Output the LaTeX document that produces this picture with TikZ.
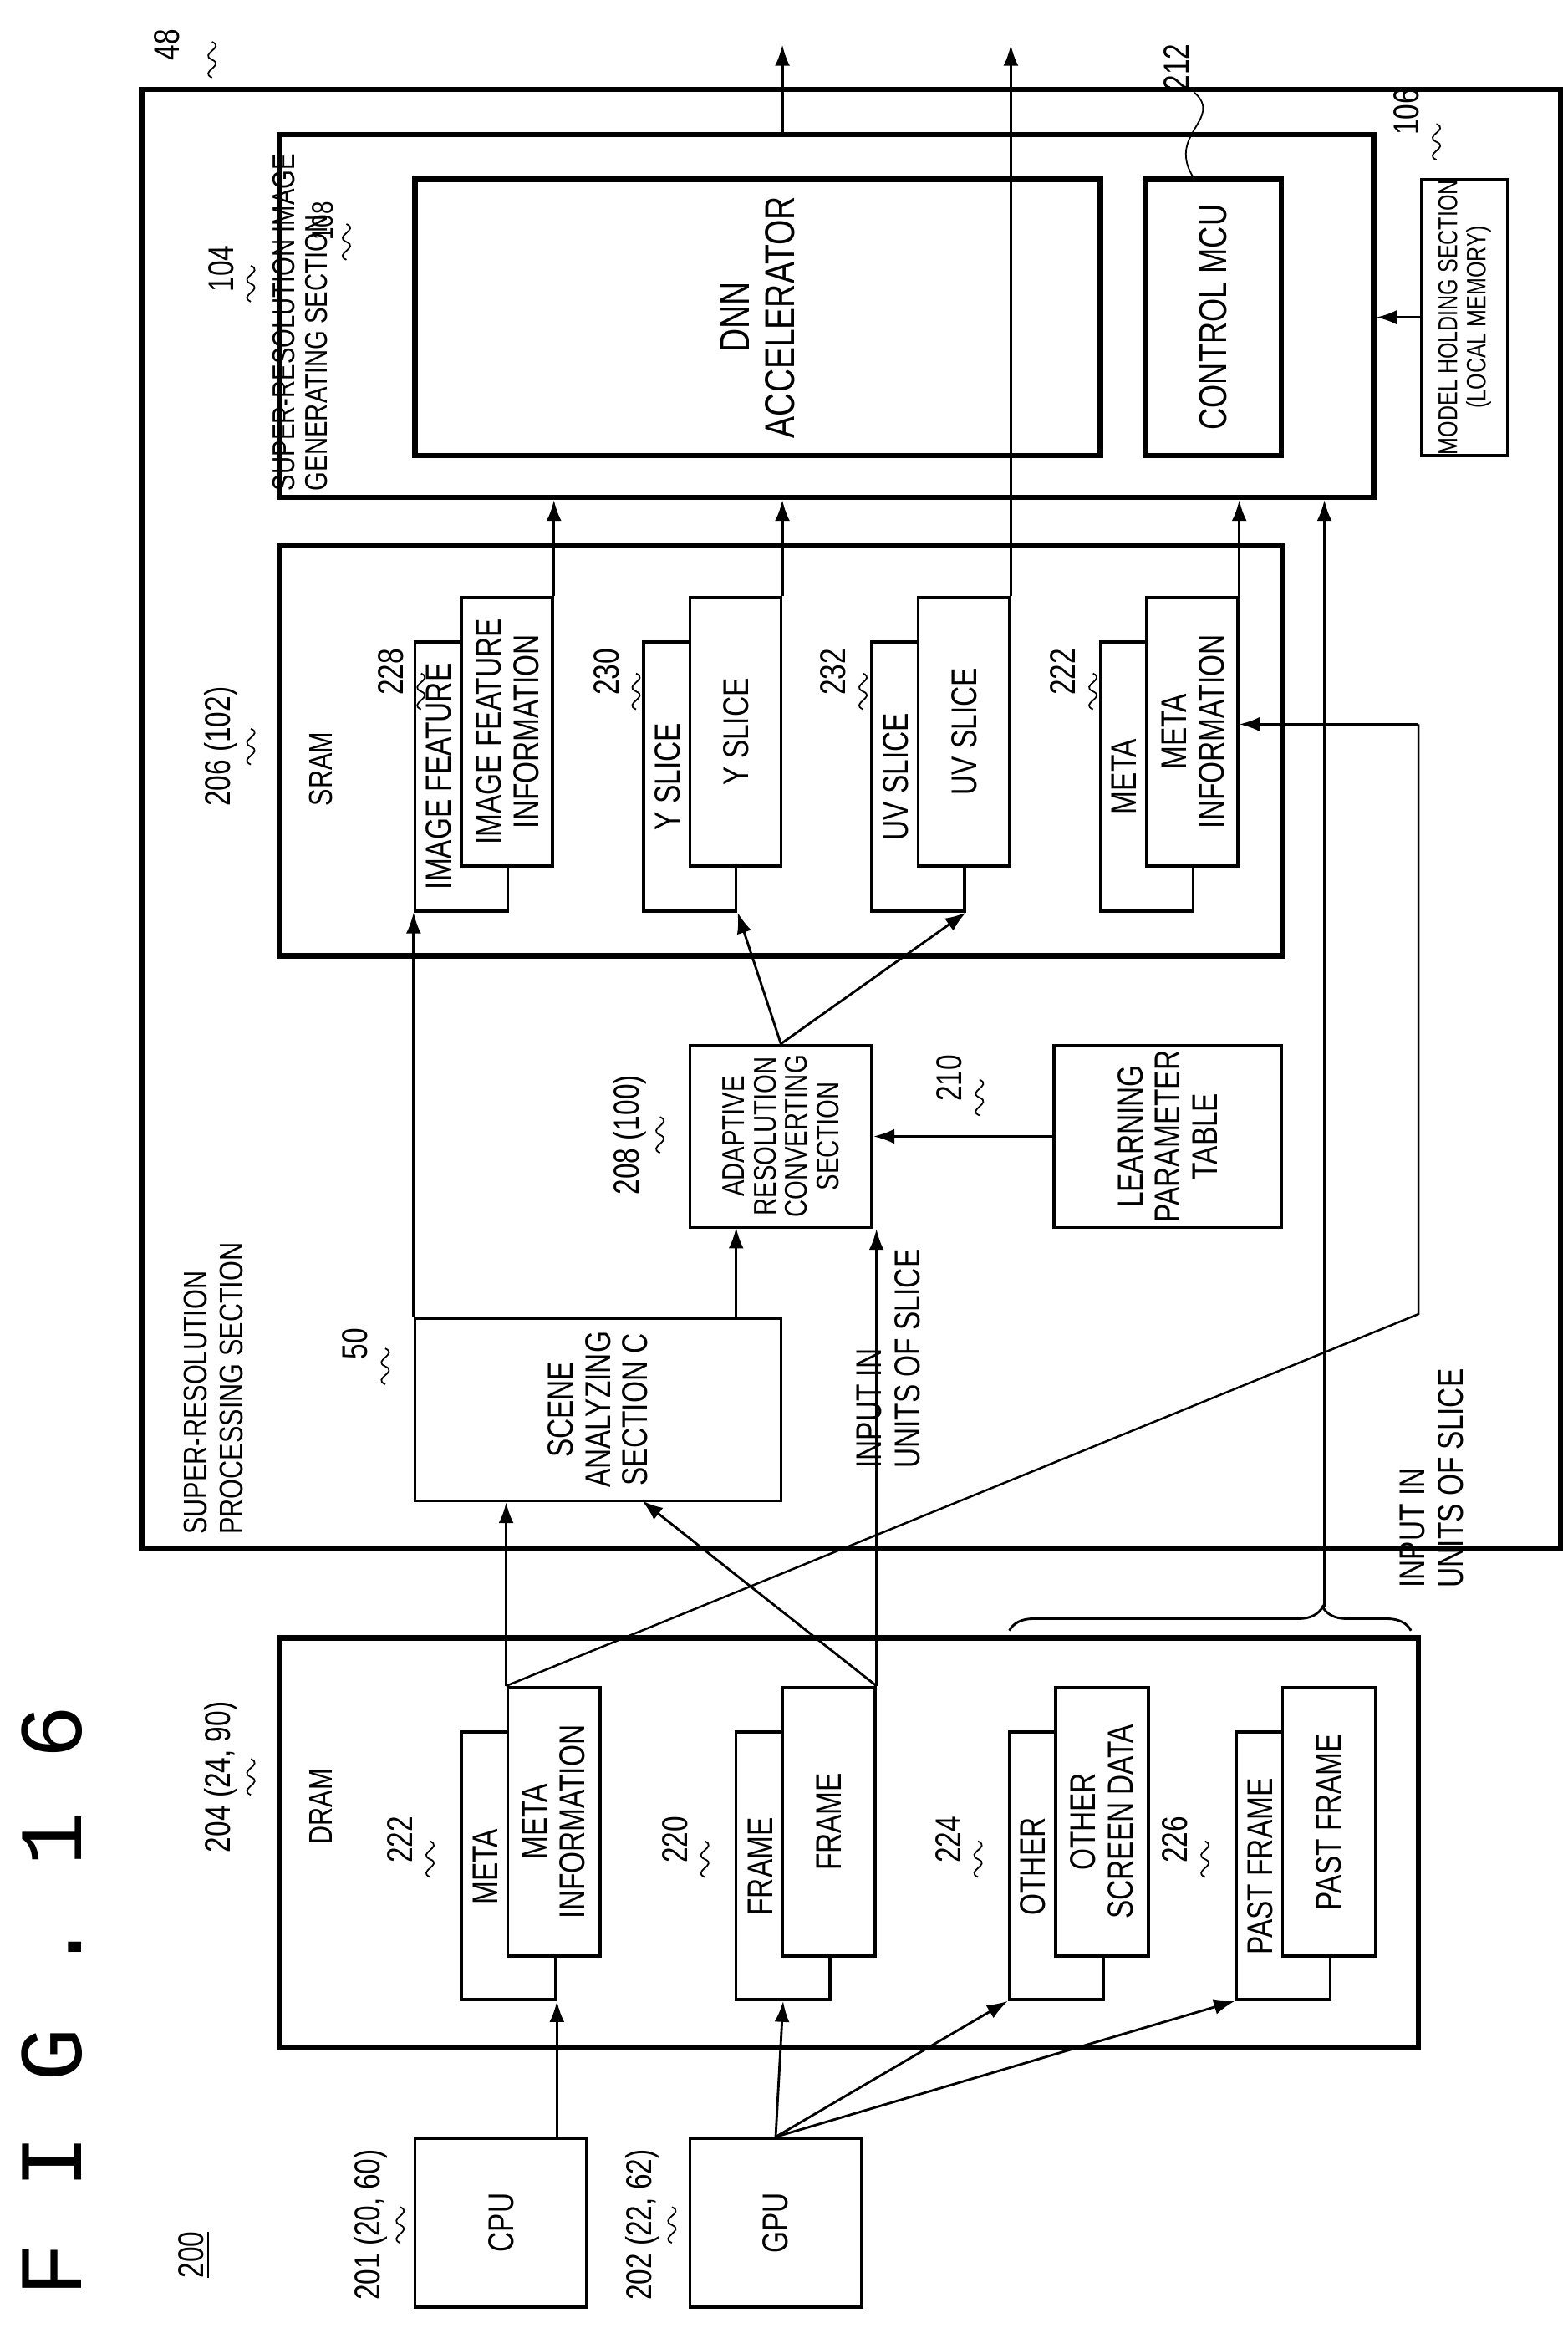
\documentclass[tikz,border=0pt]{standalone}
\usepackage{fontspec}
\setmainfont{Liberation Sans}[FakeStretch=0.78]
\newfontfamily\figfont{Liberation Mono}
\usetikzlibrary{fit,arrows.meta,decorations.pathreplacing}
\begin{document}
\begin{tikzpicture}[x=0.5pt,y=-0.5pt,
  bx/.style={draw,line width=1pt,inner sep=0pt,fill=white},
  tk/.style={draw,line width=1.8pt,inner sep=0pt},
  tx/.style={rotate=90,align=center,font=\fontsize{12}{12.5}\selectfont,inner sep=0pt},
  lb/.style={rotate=90,font=\fontsize{12}{13}\selectfont,inner sep=1pt},
  arr/.style={line width=0.8pt,-{Latex[length=7pt,width=5pt]}},
  ln/.style={line width=0.7pt},
  sq/.style={line width=0.5pt}]
\useasboundingbox (0,0) rectangle (1050,1559);
\newcommand\sqg[2]{\draw[sq] (#1,#2+12) .. controls +(-9,-4) and +(9,4) .. ++(0,-12) .. controls +(-9,-4) and +(9,4) .. ++(0,-12);}
% title
\node[rotate=90,font=\figfont\fontsize{30}{30}\selectfont,anchor=west] (fig) at (35,1545) {F I G . 1 6};
\node[lb] (n200) at (130,1510) {\underline{200}};
% CPU / GPU
\node[bx,fit={(278,1432)(393,1545)}] (cpu) {};
\node[tx] at (cpu) {CPU};
\node[bx,fit={(462,1432)(577,1545)}] (gpu) {};
\node[tx] at (gpu) {GPU};
\node[lb] (l201) at (248,1490) {201 (20, 60)}; \sqg{268}{1490}
\node[lb] (l202) at (430,1490) {202 (22, 62)}; \sqg{450}{1490}
% DRAM
\node[tk,fit={(187,1097)(950,1371)}] (dram) {};
\node[lb,font=\fontsize{11}{12}\selectfont] (ldram) at (215,1210) {DRAM};
\node[lb] (l204) at (148,1190) {204 (24, 90)}; \sqg{168}{1190}
\newcommand\pair[6]{%
 \node[bx,fit={(#1,1160)(#1+63,1339)}] (#3a) {};
 \node[tx] at (#1+16,1250) {#4};
 \node[bx,fit={(#1+31,1130)(#1+93,1310)}] (#3b) {};
 \node[tx] at (#1+62,1220) {#5};
 \node[lb] (#3l) at (#2,1232) {#6}; \sqg{#2+20}{1245}}
\pair{309}{268}{meta}{META}{META\\INFORMATION}{222}
\pair{493}{452}{frame}{FRAME}{FRAME}{220}
\pair{676}{635}{other}{OTHER}{OTHER\\SCREEN DATA}{224}
\pair{828}{787}{past}{PAST FRAME}{PAST FRAME}{226}
% SR processing section
\node[tk,fit={(95,60)(1045,1037)}] (srp) {};
\node[lb,font=\fontsize{11}{12}\selectfont,align=left,anchor=south west] (lsrp) at (165,1030) {SUPER-RESOLUTION\\PROCESSING SECTION};
\node[lb] (l48) at (112,30) {48}; \sqg{142}{40}
\node[bx,fit={(278,883)(523,1005)}] (scene) {};
\node[tx] at (scene) {SCENE\\ANALYZING\\SECTION C};
\node[lb] (l50) at (238,900) {50}; \sqg{258}{915}
\node[bx,fit={(462,700)(584,822)}] (adapt) {};
\node[tx,font=\fontsize{10.5}{10.5}\selectfont] at (adapt) {ADAPTIVE\\RESOLUTION\\CONVERTING\\SECTION};
\node[lb] (l208) at (422,760) {208 (100)}; \sqg{442}{760}
\node[bx,fit={(706,700)(858,822)}] (learn) {};
\node[tx] at (learn) {LEARNING\\PARAMETER\\TABLE};
\node[lb] (l210) at (636,722) {210}; \sqg{656}{735}
\node[lb,font=\fontsize{12}{13}\selectfont,align=left] (lin1) at (595,910) {INPUT IN\\UNITS OF SLICE};
% SRAM
\node[tk,fit={(187,365)(859,640)}] (sram) {};
\node[lb,font=\fontsize{11}{12}\selectfont] (lsram) at (215,515) {SRAM};
\node[lb] (l206) at (148,500) {206 (102)}; \sqg{168}{500}
\newcommand\spair[6]{%
 \node[bx,fit={(#1,430)(#1+62,610)}] (#3a) {};
 \node[tx] at (#1+16,520) {#4};
 \node[bx,fit={(#1+31,400)(#1+92,580)}] (#3b) {};
 \node[tx] at (#1+62,490) {#5};
 \node[lb] (#3l) at (#2,450) {#6}; \sqg{#2+20}{463}}
\spair{278}{262}{imf}{IMAGE FEATURE}{IMAGE FEATURE\\INFORMATION}{228}
\spair{431}{406}{ysl}{Y SLICE}{Y SLICE}{230}
\spair{584}{558}{uvs}{UV SLICE}{UV SLICE}{232}
\spair{737}{712}{smeta}{META}{META\\INFORMATION}{222}
% SR gen section
\node[tk,fit={(187,90)(920,333)}] (srg) {};
\node[lb,font=\fontsize{10.5}{11}\selectfont,align=left,anchor=south west] (lsrg) at (222,331) {SUPER-RESOLUTION IMAGE\\GENERATING SECTION};
\node[lb] (l104) at (148,180) {104}; \sqg{168}{190}
\node[lb,font=\fontsize{10}{11}\selectfont] (l108) at (216,148) {108}; \sqg{232}{162}
\node[tk,fit={(278,120)(737,305)}] (dnn) {};
\node[tx,font=\fontsize{14}{15}\selectfont] at (dnn) {DNN\\ACCELERATOR};
\node[tk,fit={(767,120)(858,305)}] (mcu) {};
\node[tx,font=\fontsize{13}{14}\selectfont] at (mcu) {CONTROL MCU};
\node[bx,fit={(952,120)(1010,305)}] (model) {};
\node[tx,font=\fontsize{9}{9.5}\selectfont] at (model) {MODEL HOLDING SECTION\\(LOCAL MEMORY)};
\node[lb] (l212) at (788,45) {212};
\draw[sq] (800,62) .. controls (820,80) and (780,90) .. (800,120);
\node[lb] (l106) at (942,75) {106}; \sqg{962}{95}
% arrows
\draw[arr] (metaa.south east |- cpu.north) -- (metaa.south east);
\draw[arr] (gpu.north) -- (framea.south);
\draw[arr] (gpu.north) -- (othera.south west);
\draw[arr] (gpu.north) -- (pasta.south west);
\draw[arr] (metab.north west) -- (metab.north west |- scene.south);
\draw[arr] (frameb.north east) -- (430,1005);
\draw[arr] (frameb.north east) -- (frameb.north east |- adapt.south);
\draw[ln] (metab.north west) -- (950,880) -- (950,485);
\draw[arr] (950,485) -- (smetab.east |- 0,485);
\draw[arr] (imfa.south west |- scene.north) -- (imfa.south west);
\draw[arr] (493,883) -- (493,822);
\draw[arr] (adapt.north) -- (ysla.south east);
\draw[arr] (adapt.north) -- (uvsa.south east);
\draw[arr] (learn.west) -- (adapt.east);
\draw[arr] (imfb.north east) -- (imfb.north east |- srg.south);
\draw[arr] (yslb.north east) -- (yslb.north east |- srg.south);
\draw[arr] (smetab.north east) -- (smetab.north east |- srg.south);
\draw[arr] (uvsb.north east) -- (uvsb.north east |- 0,30);
\draw[arr] (srg.north -| yslb.north east) -- (yslb.north east |- 0,30);
\draw[arr] (model.west) -- (srg.east |- model.west);
\draw[line width=0.8pt,decorate,decoration={brace,amplitude=8pt,aspect=0.78}] (676,1092) -- (945,1092);
\coordinate (bt) at (887,1076);
\draw[arr] (bt) -- (bt |- srg.south);
\node[lb,font=\fontsize{12}{13}\selectfont,align=left,anchor=north] (lin2) at (935,990) {INPUT IN\\UNITS OF SLICE};
\end{tikzpicture}
\end{document}
